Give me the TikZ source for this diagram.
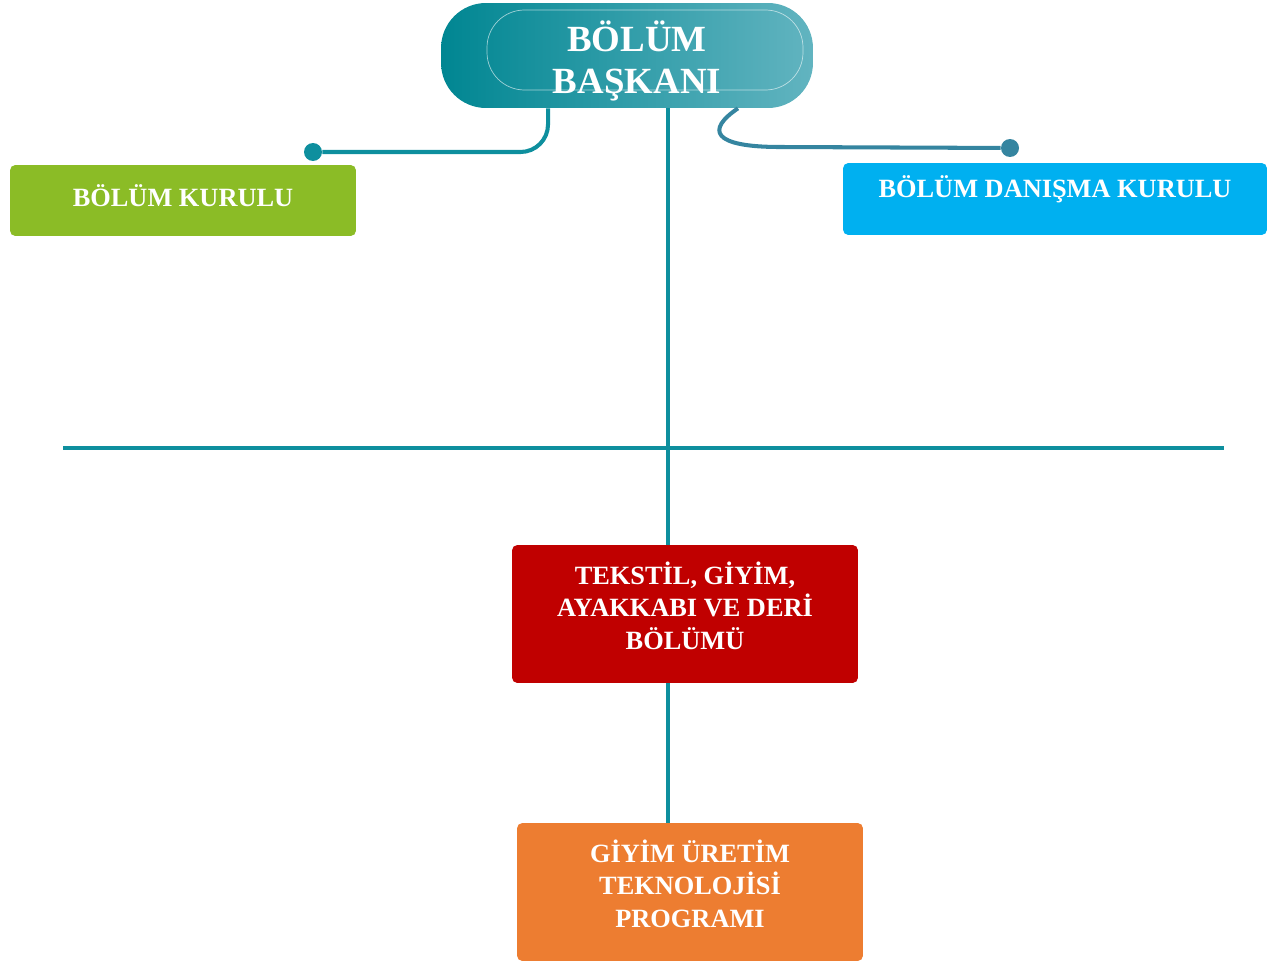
\documentclass[tikz,border=0pt]{standalone}
\usepackage{fontspec}
\setmainfont{Liberation Serif}
\definecolor{tealline}{RGB}{14,143,158}
\definecolor{tealdark}{RGB}{0,134,146}
\definecolor{teallight}{RGB}{98,180,192}
\definecolor{bluegrey}{RGB}{53,133,160}
\definecolor{kurulgreen}{RGB}{139,188,38}
\definecolor{danismablue}{RGB}{0,176,240}
\definecolor{bolumred}{RGB}{192,0,0}
\definecolor{programorange}{RGB}{237,125,49}

\begin{document}
\begin{tikzpicture}[x=0.02cm,y=-0.02cm,
    unitbox/.style={rectangle,rounded corners=3pt,text=white,align=center,
        font=\fontsize{15}{18.5}\selectfont\bfseries,inner sep=0pt},
    conn/.style={draw=tealline,line width=2.3pt},
    enddot/.style={circle,fill=#1,minimum size=0.36cm,inner sep=0pt}]
    \useasboundingbox (0,0) rectangle (1271,963);

    % head of the department
    \node[rectangle,rounded corners=0.9cm,left color=tealdark,right color=teallight,
        minimum width=7.44cm,minimum height=2.1cm,text=white,align=center,
        font=\fontsize{21}{24}\selectfont\bfseries] (baskan) at (627,55.5)
        {\hspace*{0.4cm}\rule{0pt}{24pt}BÖLÜM\\\hspace*{0.4cm}BAŞKANI};
    \draw[white,opacity=.6,line width=0.4pt,rounded corners=0.75cm] (487,10) rectangle (803,90);

    % boards
    \node[unitbox,fill=kurulgreen,minimum width=6.92cm,minimum height=1.42cm,text depth=0.2cm] (kurul) at (183,200.5) {BÖLÜM KURULU};
    \node[unitbox,fill=danismablue,minimum width=8.48cm,minimum height=1.44cm,text depth=0.5cm] (danisma) at (1055,199) {BÖLÜM DANIŞMA KURULU};

    % department and programme
    \node[unitbox,fill=bolumred,minimum width=6.92cm,minimum height=2.76cm] (bolum) at (685,614)
        {TEKSTİL, GİYİM,\\AYAKKABI VE DERİ\\BÖLÜMÜ\rule[-10pt]{0pt}{0pt}};
    \node[unitbox,fill=programorange,minimum width=6.92cm,minimum height=2.76cm] (program) at (690,892)
        {GİYİM ÜRETİM\\TEKNOLOJİSİ\\PROGRAMI\rule[-10pt]{0pt}{0pt}};

    \node[enddot=tealline] (kdot) at (313,152) {};
    \node[enddot=bluegrey] (ddot) at (1010,148) {};
    \coordinate (v) at (668,0);
    \coordinate (hl) at (63,448);
    \coordinate (hr) at (1224,448);

    % connectors
    \draw[conn,rounded corners=0.55cm] ([xshift=-1.58cm]baskan.south) |- (kdot);
    \draw[draw=bluegrey,line width=2.3pt] ([xshift=2.22cm]baskan.south) .. controls (706,130) and (712,147) .. (780,147) -- (ddot);
    \draw[conn] (baskan.south -| v) -- (bolum.north -| v);
    \draw[conn] (hl) -- (hr);
    \draw[conn] (bolum.south -| v) -- (program.north -| v);
\end{tikzpicture}
\end{document}
